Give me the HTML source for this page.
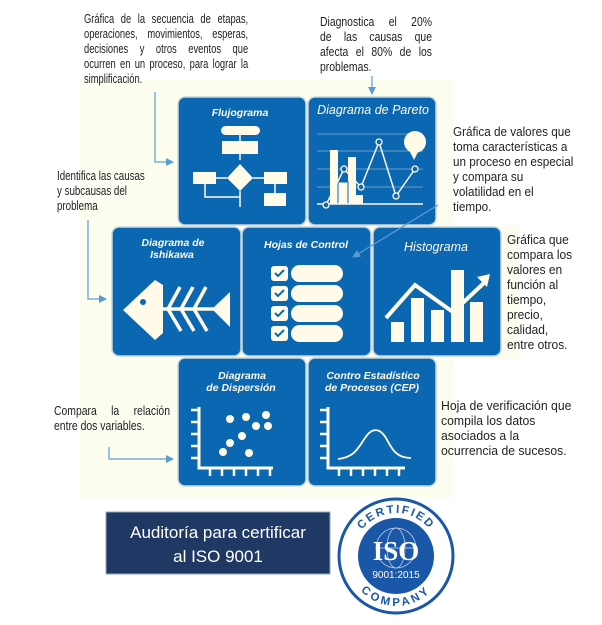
<!DOCTYPE html>
<html><head><meta charset="utf-8"><style>
body{margin:0;width:602px;height:625px;background:#fff;position:relative;overflow:hidden;font-family:"Liberation Sans",sans-serif;}
.t{position:absolute;font-size:13px;line-height:15px;color:#222;transform:scaleX(0.8);transform-origin:0 0;white-space:nowrap;}
.t div{height:15px;}
.t .j{text-align:justify;text-align-last:justify;}
svg{position:absolute;left:0;top:0;}
</style></head><body>
<svg width="602" height="625" viewBox="0 0 602 625">
<defs>
<marker id="ar" markerWidth="8" markerHeight="8" refX="7" refY="4" orient="auto" markerUnits="userSpaceOnUse"><path d="M0,0 L8,4 L0,8 z" fill="#5b9bd5"/></marker>
</defs>
<rect x="80" y="80" width="373" height="417" fill="#fdfdef"/>
<rect x="453" y="225" width="67" height="135" fill="#fdfdef"/>
<g fill="#0b67b1" stroke="#c9d6dc" stroke-width="1.5">
<rect x="178" y="97" width="128" height="128" rx="7"/>
<rect x="308" y="97" width="128" height="128" rx="7"/>
<rect x="112" y="227" width="129" height="129" rx="7"/>
<rect x="242" y="227" width="129" height="129" rx="7"/>
<rect x="373" y="227" width="128" height="129" rx="7"/>
<rect x="178" y="358" width="128" height="128" rx="7"/>
<rect x="308" y="358" width="128" height="128" rx="7"/>
</g>
<g font-family="Liberation Sans" fill="#fffbe8" text-anchor="middle" font-style="italic">
<text x="240" y="116" font-size="10.5" font-weight="bold">Flujograma</text>
<text x="373" y="114" font-size="12.5">Diagrama de Pareto</text>
<text x="173" y="246" font-size="10.5" font-weight="bold">Diagrama de</text>
<text x="172" y="258" font-size="10.5" font-weight="bold">Ishikawa</text>
<text x="306" y="248" font-size="10.5" font-weight="bold">Hojas de Control</text>
<text x="436" y="251" font-size="12.5">Histograma</text>
<text x="242" y="379" font-size="10.5" font-weight="bold">Diagrama</text>
<text x="241" y="391" font-size="10.5" font-weight="bold">de Dispersión</text>
<text x="373" y="379" font-size="10.5" font-weight="bold">Contro Estadístico</text>
<text x="372" y="391" font-size="10.5" font-weight="bold">de Procesos (CEP)</text>
</g>
<g fill="#fffbe8" stroke="#fffbe8">
<rect x="221" y="126" width="39" height="9" rx="4.5" stroke="none"/>
<line x1="240" y1="135" x2="240" y2="141" stroke-width="1.5"/>
<rect x="222" y="141" width="36" height="13" stroke="none"/>
<line x1="240" y1="154" x2="240" y2="160" stroke-width="1.5"/>
<path d="M240,164 L253,178 L240,191 L227,178 z" stroke="none"/>
<rect x="193" y="172" width="23" height="12" stroke="none"/>
<rect x="264" y="172" width="23" height="12" stroke="none"/>
<path d="M216,178 H227 M253,178 H264 M205,184 V197 H240 V191 M275,184 V193" fill="none" stroke-width="1.5"/>
<rect x="264" y="193" width="22" height="13" stroke="none"/>
<line x1="240" y1="197" x2="240" y2="207" stroke-width="1.5"/>
<g stroke-width="0.8" opacity="0.5"><line x1="317" y1="134" x2="423" y2="134"/><line x1="317" y1="151" x2="423" y2="151"/><line x1="317" y1="169" x2="423" y2="169"/><line x1="317" y1="187" x2="423" y2="187"/></g>
<rect x="330" y="150" width="8" height="54" stroke="none"/>
<rect x="348" y="157" width="8" height="47" stroke="none"/>
<rect x="338" y="182" width="10" height="22" stroke="#0b67b1" stroke-width="1"/>
<rect x="356" y="195" width="7" height="9" stroke="none"/>
<line x1="317" y1="204" x2="423" y2="204" stroke-width="1.5"/>
<polyline points="326,205 344,169 361,187 379,142 396,196 415,169" fill="none" stroke-width="1.5"/>
<g fill="#0b67b1" stroke-width="1.3"><circle cx="326" cy="205" r="3"/><circle cx="344" cy="169" r="3"/><circle cx="361" cy="187" r="3"/><circle cx="379" cy="142" r="3"/><circle cx="396" cy="196" r="3"/><circle cx="415" cy="169" r="3"/></g>
<circle cx="415" cy="142" r="11" stroke="none"/><path d="M409,150 L414,160 L419,150z" stroke="none"/>
<path d="M155,280 L163,285 L163,333 L155,340 L123,310 z" stroke="none"/>
<circle cx="143" cy="302" r="3" fill="#0b67b1" stroke="none"/>
<line x1="160" y1="309" x2="222" y2="309" stroke-width="3.5"/>
<path d="M212,309 L230,292 L230,327 z" stroke="none"/>
<g stroke-width="3.5"><line x1="168" y1="309" x2="180" y2="287"/><line x1="181" y1="309" x2="193" y2="287"/><line x1="194" y1="309" x2="206" y2="287"/><line x1="168" y1="309" x2="181" y2="331"/><line x1="181" y1="309" x2="194" y2="331"/><line x1="194" y1="309" x2="207" y2="331"/></g>
<g stroke="none"><rect x="271" y="266" width="17" height="15" rx="3"/><rect x="291" y="265" width="52" height="17" rx="8.5"/>
<rect x="271" y="286" width="17" height="15" rx="3"/><rect x="291" y="285" width="52" height="17" rx="8.5"/>
<rect x="271" y="306" width="17" height="15" rx="3"/><rect x="291" y="305" width="52" height="17" rx="8.5"/>
<rect x="271" y="326" width="17" height="15" rx="3"/><rect x="291" y="325" width="52" height="17" rx="8.5"/></g>
<g fill="none" stroke="#0b67b1" stroke-width="2"><path d="M275,273 l3,3 l6,-6"/><path d="M275,293 l3,3 l6,-6"/><path d="M275,313 l3,3 l6,-6"/><path d="M275,333 l3,3 l6,-6"/></g>
<g stroke="none"><rect x="391" y="322" width="13" height="20"/><rect x="411" y="298" width="13" height="44"/><rect x="431" y="310" width="13" height="32"/><rect x="451" y="270" width="13" height="72"/><rect x="470" y="302" width="13" height="40"/></g>
<polyline points="386,318 415,285 453,312 485,282" fill="none" stroke-width="4"/>
<path d="M477,277 L490,274 L487,287 z" stroke="none"/>
<path d="M199,407 V468 H273" fill="none" stroke-width="3"/>
<g stroke-width="2.5"><line x1="191" y1="410" x2="199" y2="410"/><line x1="191" y1="422" x2="199" y2="422"/><line x1="191" y1="434" x2="199" y2="434"/><line x1="191" y1="446" x2="199" y2="446"/><line x1="191" y1="458" x2="199" y2="458"/>
<line x1="210" y1="468" x2="210" y2="476"/><line x1="222" y1="468" x2="222" y2="476"/><line x1="234" y1="468" x2="234" y2="476"/><line x1="246" y1="468" x2="246" y2="476"/><line x1="258" y1="468" x2="258" y2="476"/><line x1="270" y1="468" x2="270" y2="476"/></g>
<g stroke="none"><circle cx="230" cy="419" r="4"/><circle cx="246" cy="417" r="4"/><circle cx="266" cy="415" r="4"/><circle cx="256" cy="426" r="4"/><circle cx="268" cy="426" r="4"/><circle cx="242" cy="436" r="4"/><circle cx="230" cy="443" r="4"/><circle cx="223" cy="452" r="4"/><circle cx="249" cy="453" r="4"/></g>
<path d="M328,407 V468 H405" fill="none" stroke-width="3"/>
<g stroke-width="2.5"><line x1="320" y1="410" x2="328" y2="410"/><line x1="320" y1="422" x2="328" y2="422"/><line x1="320" y1="434" x2="328" y2="434"/><line x1="320" y1="446" x2="328" y2="446"/><line x1="320" y1="458" x2="328" y2="458"/>
<line x1="339" y1="468" x2="339" y2="476"/><line x1="351" y1="468" x2="351" y2="476"/><line x1="363" y1="468" x2="363" y2="476"/><line x1="375" y1="468" x2="375" y2="476"/><line x1="387" y1="468" x2="387" y2="476"/><line x1="399" y1="468" x2="399" y2="476"/></g>
<path d="M338,459 C355,457 358,448 365,438 C372,427 380,428 386,438 C392,449 396,458 411,458" fill="none" stroke-width="1.8"/>
</g>
<g stroke="#5b9bd5" stroke-width="1.2" fill="none">
<polyline points="155,92 155,162 173,162" marker-end="url(#ar)"/>
<line x1="372" y1="76" x2="372" y2="94" marker-end="url(#ar)"/>
<polyline points="88,220 88,299 106,299" marker-end="url(#ar)"/>
<line x1="438" y1="205" x2="353" y2="257" marker-end="url(#ar)"/>
<polyline points="109,447 109,459 173,459" marker-end="url(#ar)"/>
</g>
<rect x="106" y="512" width="224" height="62" fill="#1f3864" stroke="#8ea8c8" stroke-width="1"/>
<text x="218" y="538" font-family="Liberation Sans" font-size="17" fill="#fff" text-anchor="middle">Auditoría para certificar</text>
<text x="218" y="562" font-family="Liberation Sans" font-size="17" fill="#fff" text-anchor="middle">al ISO 9001</text>
<circle cx="396" cy="556" r="57" fill="#fff" stroke="#1a57a8" stroke-width="3"/>
<circle cx="396" cy="556" r="38" fill="#1a57a8"/>
<defs><path id="arcT" d="M353,556 A43,43 0 0 1 439,556"/><path id="arcB" d="M348,558 A48,48 0 0 0 444,558"/></defs>
<text font-family="Liberation Sans" font-size="11.5" font-weight="bold" fill="#1a57a8" letter-spacing="2"><textPath href="#arcT" startOffset="50%" text-anchor="middle">CERTIFIED</textPath></text>
<text font-family="Liberation Sans" font-size="11.5" font-weight="bold" fill="#1a57a8" letter-spacing="3"><textPath href="#arcB" startOffset="50%" text-anchor="middle">COMPANY</textPath></text>
<g fill="none" stroke="#ffffff" stroke-width="0.7" opacity="0.8"><ellipse cx="396" cy="548" rx="20" ry="20"/><ellipse cx="396" cy="548" rx="9" ry="20"/><line x1="376" y1="548" x2="416" y2="548"/></g>
<text x="396" y="560" font-family="Liberation Serif" font-size="27" font-weight="bold" fill="#fff" text-anchor="middle">ISO</text>
<text x="396" y="578" font-family="Liberation Sans" font-size="10" fill="#fff" text-anchor="middle">9001:2015</text>
</svg>
<div class="t" style="left:84px;top:11px;width:228px;transform:scaleX(0.72);"><div class="j">Gráfica de la secuencia de etapas,</div><div class="j">operaciones, movimientos, esperas,</div><div class="j">decisiones y otros eventos que</div><div class="j">ocurren en un proceso, para lograr la</div><div>simplificación.</div></div>
<div class="t" style="left:320px;top:14px;width:140px;"><div class="j">Diagnostica el 20%</div><div class="j">de las causas que</div><div class="j">afecta el 80% de los</div><div>problemas.</div></div>
<div class="t" style="left:453px;top:124px;width:150px;transform:scaleX(0.9);"><div>Gráfica de valores que</div><div>toma características a</div><div>un proceso en especial</div><div>y compara su</div><div>volatilidad en el</div><div>tiempo.</div></div>
<div class="t" style="left:57px;top:168px;width:120px;transform:scaleX(0.75);"><div>Identifica las causas</div><div>y subcausas del</div><div>problema</div></div>
<div class="t" style="left:507px;top:232px;width:90px;transform:scaleX(0.92);"><div>Gráfica que</div><div>compara los</div><div>valores en</div><div>función al</div><div>tiempo,</div><div>precio,</div><div>calidad,</div><div>entre otros.</div></div>
<div class="t" style="left:54px;top:403px;width:145px;"><div class="j">Compara la relación</div><div>entre dos variables.</div></div>
<div class="t" style="left:441px;top:398px;width:165px;transform:scaleX(0.94);"><div>Hoja de verificación que</div><div>compila los datos</div><div>asociados a la</div><div>ocurrencia de sucesos.</div></div>
</body></html>
